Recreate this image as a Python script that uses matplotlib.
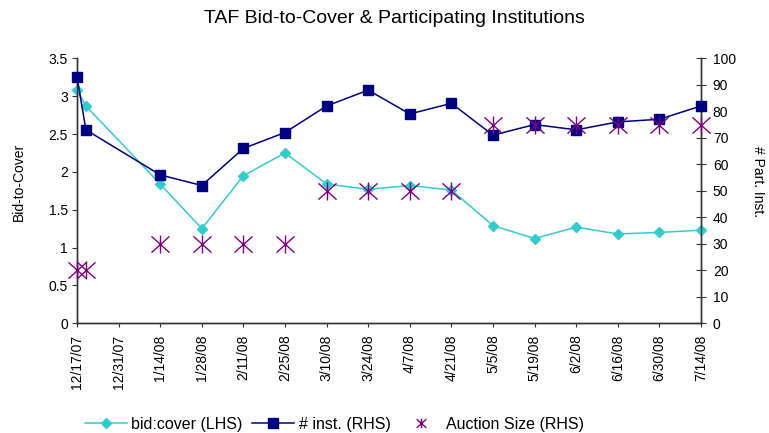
import matplotlib
matplotlib.use("Agg")
import matplotlib.pyplot as plt
import matplotlib.dates as mdates
from matplotlib.path import Path
from matplotlib.lines import Line2D
from datetime import date, timedelta

# ---- data ----
auction_dates = ["2007-12-17", "2007-12-20", "2008-01-14", "2008-01-28", "2008-02-11",
                 "2008-02-25", "2008-03-10", "2008-03-24", "2008-04-07", "2008-04-21",
                 "2008-05-05", "2008-05-19", "2008-06-02", "2008-06-16", "2008-06-30",
                 "2008-07-14"]
bid_cover = [3.08, 2.87, 1.84, 1.25, 1.95, 2.25, 1.84, 1.77, 1.82, 1.76,
             1.29, 1.12, 1.27, 1.18, 1.20, 1.23]
num_inst = [93, 73, 56, 52, 66, 72, 82, 88, 79, 83, 71, 75, 73, 76, 77, 82]
auction_size = [20, 20, 30, 30, 30, 30, 50, 50, 50, 50, 75, 75, 75, 75, 75, 75]
tick_labels = ["12/17/07", "12/31/07", "1/14/08", "1/28/08", "2/11/08", "2/25/08",
               "3/10/08", "3/24/08", "4/7/08", "4/21/08", "5/5/08", "5/19/08",
               "6/2/08", "6/16/08", "6/30/08", "7/14/08"]
left_ticks = [0, 0.5, 1, 1.5, 2, 2.5, 3, 3.5]
left_tick_labels = ["0", "0.5", "1", "1.5", "2", "2.5", "3", "3.5"]
right_ticks = [0, 10, 20, 30, 40, 50, 60, 70, 80, 90, 100]

plt.rcParams['font.family'] = ['Liberation Sans', 'DejaVu Sans']

W, H = 769, 433
dates = [date.fromisoformat(d) for d in auction_dates]
start = date(2007, 12, 17)
tick_dates = [start + timedelta(days=14 * i) for i in range(len(tick_labels))]

# asterisk marker like Excel: X plus vertical line
ast = Path([(-0.5, -0.45), (0.5, 0.45), (-0.5, 0.45), (0.5, -0.45), (0, -0.5), (0, 0.5)],
           [Path.MOVETO, Path.LINETO, Path.MOVETO, Path.LINETO, Path.MOVETO, Path.LINETO])

TEAL = '#33CCCC'
NAVY = '#000080'
PURPLE = '#800080'
AXC = '#333333'

fig = plt.figure(figsize=(W / 100, H / 100), dpi=100)
ax = fig.add_axes([77 / W, 1 - 323.3 / H, 624 / W, 265 / H])
ax2 = ax.twinx()

ax.plot(dates, bid_cover, color=TEAL, marker='D', markersize=4.6,
        linewidth=1.1, clip_on=False, zorder=3)
ax2.plot(dates, num_inst, color=NAVY, marker='s', markersize=6.8,
         linewidth=1.1, clip_on=False, zorder=3)
ax2.plot(dates, auction_size, linestyle='none', color=PURPLE, marker=ast,
         markersize=13, markeredgewidth=1.0, clip_on=False, zorder=4)

ax.set_xlim(mdates.date2num(tick_dates[0]), mdates.date2num(tick_dates[-1]))
ax.set_ylim(0, 3.5)
ax.set_yticks(left_ticks)
ax.set_yticklabels(left_tick_labels)
ax2.set_ylim(0, 100)
ax2.set_yticks(right_ticks)

ax.set_xticks([mdates.date2num(d) for d in tick_dates])
ax.set_xticklabels(tick_labels, rotation=90)

for a in (ax, ax2):
    a.spines['top'].set_visible(False)
    for s in a.spines.values():
        s.set_color(AXC)
        s.set_linewidth(1.0)
ax.tick_params(axis='x', labelsize=10, length=3, color=AXC, pad=5)
ax.tick_params(axis='y', labelsize=10, length=3.6, color=AXC, pad=3)
ax2.tick_params(axis='y', labelsize=10, length=7, direction='inout', color=AXC, pad=5)

fig.text(19 / W, 1 - 182 / H, 'Bid-to-Cover', rotation=90, ha='center', va='center',
         fontsize=10)
fig.text(758 / W, 1 - 182 / H, '# Part. Inst.', rotation=270, ha='center', va='center',
         fontsize=10)

fig.text(394 / W, 1 - 18.5 / H, 'TAF Bid-to-Cover & Participating Institutions',
         ha='center', va='center', fontsize=14)

ast_handle = Line2D([], [], linestyle='none', color=PURPLE, marker=ast, markersize=7,
                    markeredgewidth=1.0, label='Auction Size (RHS)')
leg_l1 = Line2D([], [], color=TEAL, marker='D', markersize=4.6, linewidth=1.1,
                label='bid:cover (LHS)')
leg_l2 = Line2D([], [], color=NAVY, marker='s', markersize=6.5, linewidth=1.1,
                label='# inst. (RHS)')
fig.legend(handles=[leg_l1, leg_l2, ast_handle], loc='center left',
           bbox_to_anchor=(85 / W, 1 - 424 / H), ncol=3, frameon=False, fontsize=11.5,
           handlelength=2.6, handletextpad=0.3, columnspacing=0.6, borderpad=0,
           borderaxespad=0)

fig.savefig('out.png', dpi=100)
